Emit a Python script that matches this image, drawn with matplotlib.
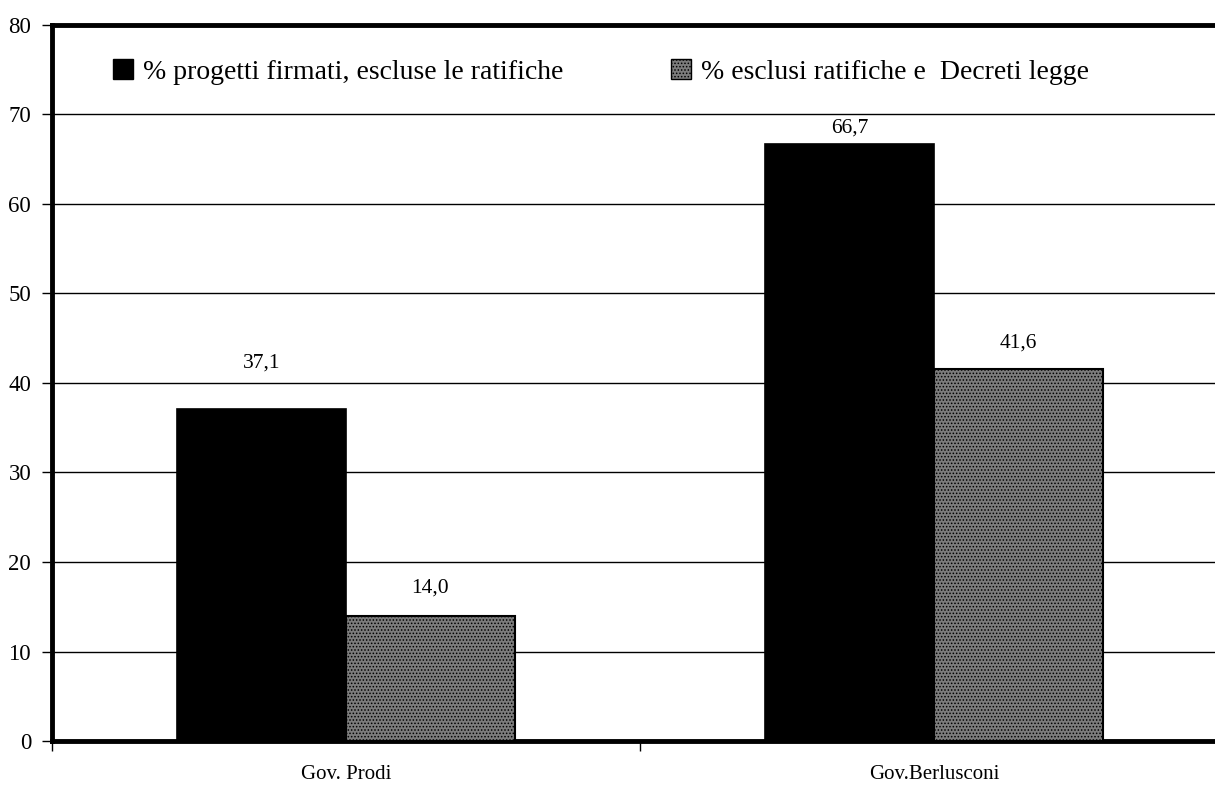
import numpy as np
import matplotlib.pyplot as plt
from matplotlib.patches import Patch

governi = ["Gov. Prodi", "Gov.Berlusconi"]
firmati = [37.1, 66.7]
esclusi_dl = [14.0, 41.6]
serie_labels = ["% progetti firmati, escluse le ratifiche",
                "% esclusi ratifiche e  Decreti legge"]

# label offsets above the bar top, in points (as in the original chart)
off_firmati = [26, 5]
off_esclusi = [13, 11.5]

plt.rcParams['font.family'] = ['Liberation Serif', 'DejaVu Serif']
plt.rcParams['hatch.linewidth'] = 0.7
plt.rcParams['hatch.color'] = '#2a2a2a'

fig = plt.figure(figsize=(12.15, 7.85), dpi=100)
ax = fig.add_axes([52 / 1215, 1 - 741 / 785, 1176 / 1215, 716 / 785])

x = np.arange(len(governi))
w = 0.287
grey = '#7c7c7c'
b1 = ax.bar(x - w / 2, firmati, w, color='black', edgecolor='black',
            linewidth=1.2, zorder=3)
b2 = ax.bar(x + w / 2, esclusi_dl, w, color=grey, edgecolor='black',
            linewidth=1.5, hatch='.....', zorder=3)

for rect, v, off in zip(b1, firmati, off_firmati):
    ax.annotate(f"{v:.1f}".replace('.', ','), (rect.get_x() + rect.get_width() / 2, v),
                xytext=(0, off), textcoords='offset points', ha='center', va='bottom',
                fontsize=15.5)
for rect, v, off in zip(b2, esclusi_dl, off_esclusi):
    ax.annotate(f"{v:.1f}".replace('.', ','), (rect.get_x() + rect.get_width() / 2, v),
                xytext=(0, off), textcoords='offset points', ha='center', va='bottom',
                fontsize=15.5)

ax.set_xlim(-0.5, 1.5)
ax.set_ylim(0, 80)
ax.set_yticks(range(0, 81, 10))
ax.yaxis.grid(True, color='black', linewidth=1.0, zorder=0)
ax.set_axisbelow(True)

ax.set_xticks(x)
ax.set_xticklabels(governi)
ax.set_xticks([-0.5, 0.5, 1.5], minor=True)
ax.tick_params(axis='x', which='major', length=0, pad=17, labelsize=15)
ax.tick_params(axis='x', which='minor', length=7, width=1, direction='out')
ax.tick_params(axis='y', length=7, width=1, pad=8, labelsize=16.5)

for side in ['left', 'bottom', 'top']:
    ax.spines[side].set_linewidth(3.5)
ax.spines['right'].set_visible(False)

handles = [Patch(facecolor='black', edgecolor='black'),
           Patch(facecolor=grey, edgecolor='black', hatch='.....')]
ax.legend(handles, serie_labels, ncol=2, frameon=False, fontsize=20,
          loc='center left', bbox_to_anchor=(88 / 1215, 1 - 72 / 785),
          bbox_transform=fig.transFigure, handlelength=0.72, handleheight=0.72,
          handletextpad=0.35, columnspacing=3.9)

fig.savefig('out.png', dpi=100)
